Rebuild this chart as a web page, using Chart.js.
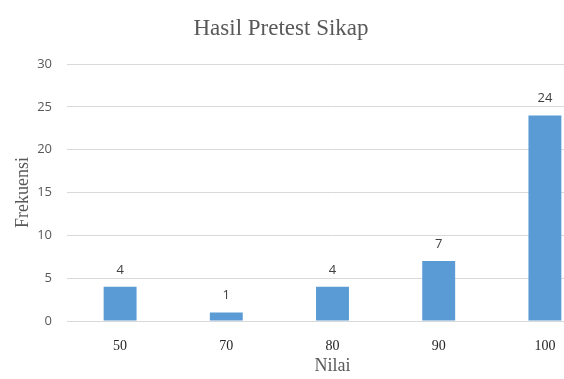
<!DOCTYPE html>
<html>
<head>
<meta charset="utf-8">
<script src="https://cdn.jsdelivr.net/npm/chart.js@4"></script>
<style>
  html, body { margin: 0; padding: 0; background: #fff; overflow: hidden; }
  #wrap { width: 600px; height: 379px; }
</style>
</head>
<body>
<div id="wrap"><canvas id="chart" width="600" height="379"></canvas></div>
<script>
// data
const nilai = ['50', '70', '80', '90', '100'];
const frekuensi = [4, 1, 4, 7, 24];
const yTicks = [0, 5, 10, 15, 20, 25, 30];

const chartTitle = 'Hasil Pretest Sikap';

// title is centred on the visible 564px, plot runs past the right edge
const titlePlugin = {
  id: 'titleText',
  afterDraw(chart) {
    const ctx = chart.ctx;
    ctx.save();
    ctx.font = '23px "Liberation Serif", "Times New Roman", serif';
    ctx.fillStyle = '#595959';
    ctx.textAlign = 'center';
    ctx.textBaseline = 'alphabetic';
    ctx.fillText(chartTitle, 281, 35);
    ctx.restore();
  }
};

// value labels above each bar
const valueLabels = {
  id: 'valueLabels',
  afterDatasetsDraw(chart) {
    const ctx = chart.ctx;
    const meta = chart.getDatasetMeta(0);
    ctx.save();
    ctx.font = '13px "Open Sans", sans-serif';
    ctx.fillStyle = '#404040';
    ctx.textAlign = 'center';
    ctx.textBaseline = 'alphabetic';
    meta.data.forEach((bar, i) => {
      ctx.fillText(String(frekuensi[i]), bar.x, bar.y - 13);
    });
    ctx.restore();
  }
};

new Chart(document.getElementById('chart'), {
  type: 'bar',
  data: {
    labels: nilai,
    datasets: [{
      data: frekuensi,
      backgroundColor: '#5b9bd5',
      borderWidth: 0,
      barPercentage: 0.31,
      categoryPercentage: 1
    }]
  },
  options: {
    responsive: false,
    animation: false,
    layout: { padding: { top: 64, right: 2, left: 0, bottom: 0 } },
    plugins: {
      legend: { display: false },
      title: { display: false },
      tooltip: { enabled: false }
    },
    scales: {
      x: {
        grid: { display: false, drawTicks: false },
        border: { display: false },
        ticks: {
          padding: 17,
          color: '#262626',
          font: { family: '"Liberation Serif", "Times New Roman", serif', size: 14 }
        },
        title: {
          display: true,
          text: 'Nilai',
          color: '#595959',
          font: { family: '"Liberation Serif", "Times New Roman", serif', size: 18 },
          padding: { top: 0, bottom: 2 }
        },
        afterFit(scale) { scale.height = 58; }
      },
      y: {
        min: 0,
        max: 30,
        afterBuildTicks(scale) { scale.ticks = yTicks.map(v => ({ value: v })); },
        grid: { color: '#d9d9d9', lineWidth: 1, drawTicks: false },
        border: { display: false },
        ticks: {
          padding: 15,
          color: '#595959',
          font: { family: '"Open Sans", sans-serif', size: 13 }
        },
        title: {
          display: true,
          text: 'Frekuensi',
          color: '#595959',
          font: { family: '"Liberation Serif", "Times New Roman", serif', size: 18 },
          padding: { top: 12, bottom: 0 }
        },
        afterFit(scale) { scale.width = 67; }
      }
    }
  },
  plugins: [titlePlugin, valueLabels]
});
</script>
</body>
</html>
